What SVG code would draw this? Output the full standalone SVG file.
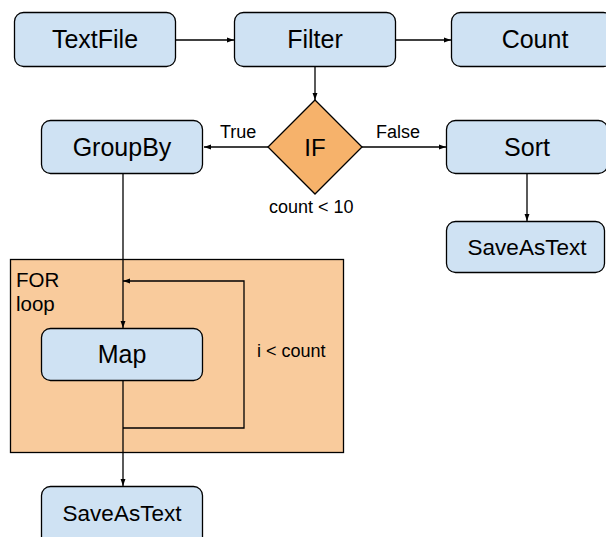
<svg xmlns="http://www.w3.org/2000/svg" width="606" height="537" viewBox="0 0 606 537">
<style>
.box{fill:#cfe2f3;stroke:#000;stroke-width:1.3}
.lbl{font-family:"Liberation Sans",Arial,sans-serif;font-size:25px;fill:#000;text-anchor:middle}
.mid{font-family:"Liberation Sans",Arial,sans-serif;font-size:22.5px;fill:#000;text-anchor:middle}
.sm{font-family:"Liberation Sans",Arial,sans-serif;font-size:18px;fill:#000}
.ln{fill:none;stroke:#000;stroke-width:1.3}
</style>
<defs>
<marker id="ah" viewBox="0 0 10 10" refX="10" refY="5" markerWidth="7" markerHeight="7" orient="auto" markerUnits="userSpaceOnUse">
<path d="M0,1.5 L10,5 L0,8.5 z" fill="#000"/>
</marker>
</defs>
<rect id="forloop" x="10.5" y="259.5" width="333" height="193" fill="#f9cb9c" stroke="#000" stroke-width="1.3"/>
<text class="sm" x="16" y="287" style="font-size:20.5px">FOR</text>
<text class="sm" x="16" y="311" style="font-size:20.5px">loop</text>
<g id="connectors">
<line class="ln" x1="155" y1="40" x2="234" y2="40" marker-end="url(#ah)"/>
<line class="ln" x1="396" y1="40" x2="451" y2="40" marker-end="url(#ah)"/>
<line class="ln" x1="315" y1="66" x2="315" y2="100" marker-end="url(#ah)"/>
<line class="ln" x1="268" y1="147" x2="204" y2="147" marker-end="url(#ah)"/>
<line class="ln" x1="362" y1="147" x2="446" y2="147" marker-end="url(#ah)"/>
<line class="ln" x1="527" y1="174" x2="527" y2="221" marker-end="url(#ah)"/>
<line class="ln" x1="123" y1="174" x2="123" y2="328" marker-end="url(#ah)"/>
<polyline class="ln" points="123,428 244,428 244,281 123,281" marker-end="url(#ah)"/>
<line class="ln" x1="123" y1="381" x2="123" y2="486" marker-end="url(#ah)"/>
<text class="sm" x="220" y="138">True</text>
<text class="sm" x="376" y="138">False</text>
<text class="sm" x="269" y="213">count &lt; 10</text>
<text class="sm" x="257" y="357">i &lt; count</text>
</g>
<g id="textfile"><rect class="box" x="14.5" y="12.5" width="161" height="54" rx="9"/><text class="lbl" x="95" y="48">TextFile</text></g>
<g id="filter"><rect class="box" x="234.5" y="12.5" width="161" height="54" rx="9"/><text class="lbl" x="315" y="48">Filter</text></g>
<g id="count"><rect class="box" x="451.5" y="12.5" width="161" height="54" rx="9"/><text class="lbl" x="535" y="48">Count</text></g>
<g id="if"><polygon points="315,100 362,147 315,194 268,147" fill="#f6b26b" stroke="#000" stroke-width="1.3"/><text class="lbl" x="315" y="156" style="font-size:24px">IF</text></g>
<g id="groupby"><rect class="box" x="41.5" y="120.5" width="161" height="53" rx="9"/><text class="lbl" x="122" y="156">GroupBy</text></g>
<g id="sort"><rect class="box" x="446.5" y="120.5" width="161" height="53" rx="9"/><text class="lbl" x="527" y="156">Sort</text></g>
<g id="saveastext1"><rect class="box" x="446.5" y="221.5" width="158" height="51" rx="9"/><text class="mid" x="527" y="255">SaveAsText</text></g>
<g id="map"><rect class="box" x="41.5" y="328.5" width="161" height="52" rx="9"/><text class="lbl" x="122" y="363">Map</text></g>
<g id="saveastext2"><rect class="box" x="41.5" y="486.5" width="161" height="60" rx="9"/><text class="mid" x="122" y="521">SaveAsText</text></g>
</svg>
